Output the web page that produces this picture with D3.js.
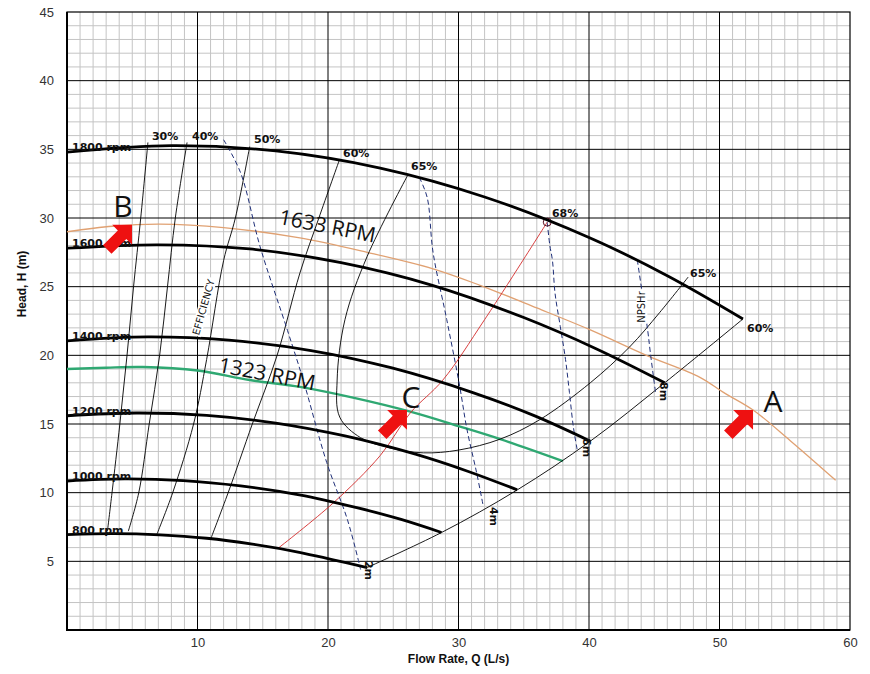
<!DOCTYPE html>
<html lang="en">
<head>
<meta charset="UTF-8">
<title>Pump Performance Curves</title>
<script src="https://d3js.org/d3.v7.min.js"></script>
<style>
  body { margin: 0; background: #fff; }
  .grid-minor { stroke: #c4c4c4; stroke-width: 1; }
  .grid-major { stroke: #000; stroke-width: 1; }
  .pump { fill: none; stroke: #000; stroke-width: 2.8; }
  .eff { fill: none; stroke: #000; stroke-width: 0.9; }
  .npsh { fill: none; stroke: #1f2f78; stroke-width: 1; stroke-dasharray: 5,3; }
  .lbl { font-family: "DejaVu Sans", Verdana, sans-serif; font-weight: bold; font-size: 11px; fill: #111; }
  .rpm { font-family: "Open Sans", "Liberation Sans", sans-serif; font-size: 21px; fill: #111; }
  .letter { font-family: "Open Sans", "Liberation Sans", sans-serif; font-size: 30px; fill: #111; }
  .axis-title { font-family: "Liberation Sans", Arial, sans-serif; font-weight: bold; font-size: 12px; fill: #111; }
</style>
</head>
<body>
<div id="chart"></div>
<script>
// pump curves [Q (L/s), H (m)] for each speed
const speedLabels = ["1800 rpm", "1600 rpm", "1400 rpm", "1200 rpm", "1000 rpm", "800 rpm"];
const curve1800 = [[0,34.8],[8,35.27],[16,34.88],[24,33.63],[32,31.53],[40,28.58],[46,25.8],[51.8,22.65]];
const curve1600 = [[0,27.8],[7,28.05],[14,27.75],[21,26.75],[28,25.1],[35,22.75],[40.5,20.5],[45.8,18.0]];
const curve1400 = [[0,21.05],[6.2,21.34],[12.4,21.1],[18.7,20.35],[24.9,19.08],[31.1,17.29],[35.8,15.61],[40.1,13.75]];
const curve1200 = [[0,15.6],[5.3,15.8],[10.7,15.63],[16,15.07],[21.3,14.13],[26.7,12.8],[30.7,11.56],[34.5,10.2]];
const curve1000 = [[0,10.85],[4.4,11.0],[8.9,10.88],[13.3,10.49],[17.8,9.84],[22.2,8.91],[25.6,8.05],[28.7,7.1]];
const curve800 = [[0,6.95],[3.55,7.02],[7.1,6.93],[10.7,6.68],[14.2,6.25],[17.8,5.66],[20.4,5.11],[23.0,4.55]];
const pumpCurves = [curve1800, curve1600, curve1400, curve1200, curve1000, curve800];

// iso-efficiency lines
const eff30 = [[6.2,35.5],[5.65,30],[5.1,25],[4.6,20],[4.05,15],[3.45,10],[3.1,7.2]];
const eff40 = [[9.2,35.5],[8.3,30],[7.7,25],[7.1,20],[6.3,15],[5.5,10],[4.7,7.2]];
const eff50 = [[14.0,35.2],[12.9,30],[12.0,26.9],[10.7,19.7],[9.7,15],[8.1,10],[6.9,7.0]];
const eff60 = [[20.9,34.3],[19.3,30],[17.85,26.0],[16.1,20],[14.2,15],[12.35,10],[11.0,6.6]];
const eff65 = [[26.1,33.1],[23.0,27.2],[21.3,22.6],[20.7,18.2],[20.9,15.5],[22.5,14.0],[24.75,13.25],[27.3,12.9],
               [30.0,13.1],[33.2,13.9],[36.2,15.3],[40.1,18.0],[43.1,20.6],[45.4,23.1],[47.6,25.7]];
const effEnd = [[51.8,22.65],[45.8,18.0],[40.1,13.75],[34.5,10.2],[28.7,7.1],[23.0,4.55]];
const effLines = [eff30, eff40, eff50, eff60, eff65, effEnd];

// NPSHr lines (2m, 4m, 6m, 8m)
const npsh2 = [[12.0,35.7],[13.3,33.3],[14.8,27.9],[16.9,21.8],[18.1,18.2],[19.9,12.2],[21.5,8.0],[22.5,4.4]];
const npsh4 = [[27.0,32.95],[27.6,31.5],[28.05,27.5],[29.1,22.6],[30.1,17.7],[30.65,14.6],[31.4,11.4],[31.9,9.0]];
const npsh6 = [[36.8,29.7],[37.0,28.0],[37.2,26.9],[37.4,24.5],[37.8,22.1],[38.2,19.7],[38.5,17.3],[38.8,14.8],[39.1,13.1]];
const npsh8 = [[43.7,26.95],[44.1,24.4],[44.5,21.8],[44.7,20.2],[45.0,18.0],[45.1,17.3]];
const npshLines = [npsh2, npsh4, npsh6, npsh8];

// system curve and operating speeds
const systemCurve = [[16.2,5.97],[20.4,9.25],[24.0,12.7],[26.3,15.8],[28.8,18.2],[32.0,22.6],[36.8,29.7]];
const curve1633 = [[0,29.0],[3.5,29.4],[7.1,29.55],[12,29.3],[17.85,28.55],[23,27.5],[28.05,26.3],[31.65,25.1],
                   [36,23.45],[40.1,21.85],[44.4,20.0],[48.5,18.4],[50.3,17.3],[52.6,16.0],[55.4,13.8],[58.9,10.9]];
const curve1323 = [[0,19.0],[3,19.1],[5.8,19.15],[10,18.9],[14,18.2],[17.85,17.7],[22,16.9],[26.3,15.9],[30,14.85],[33.2,13.9],[38.0,12.3]];
const bestPoint = [36.8, 29.7];

const xTicks = [10, 20, 30, 40, 50, 60];
const yTicks = [5, 10, 15, 20, 25, 30, 35, 40, 45];

// annotation anchors (data coords)
const effLabels = [
  { t: "30%", q: 6.51, h: 35.69 }, { t: "40%", q: 9.58, h: 35.69 }, { t: "50%", q: 14.33, h: 35.47 },
  { t: "60%", q: 21.15, h: 34.45 }, { t: "65%", q: 26.36, h: 33.5 }, { t: "68%", q: 37.16, h: 30.08 },
  { t: "65%", q: 47.74, h: 25.71 }, { t: "60%", q: 52.11, h: 21.7 }
];
const npshLabels = [
  { t: "2m", q: 22.84, h: 5.03 }, { t: "4m", q: 32.41, h: 8.96 },
  { t: "6m", q: 39.54, h: 13.98 }, { t: "8m", q: 45.44, h: 18.06 }
];
const points = [
  { t: "B", q: 4.29, h: 30.08, tipQ: 4.98, tipH: 29.5 },
  { t: "A", q: 54.1, h: 15.88, tipQ: 52.57, tipH: 16.02 },
  { t: "C", q: 26.36, h: 16.17, tipQ: 26.05, tipH: 16.02 }
];

const width = 870, height = 674;
const margin = { top: 12, right: 20, bottom: 44, left: 67 };

const x = d3.scaleLinear().domain([0, 60]).range([margin.left, width - margin.right]);
const y = d3.scaleLinear().domain([0, 45]).range([height - margin.bottom, margin.top]);

const svg = d3.select("#chart").append("svg")
  .attr("width", width)
  .attr("height", height);

// grid
const grid = svg.append("g");
grid.selectAll(".vx").data(d3.range(1, 60)).enter().append("line")
  .attr("class", d => d % 10 === 0 ? "grid-major" : "grid-minor")
  .attr("x1", d => x(d)).attr("x2", d => x(d))
  .attr("y1", y(0)).attr("y2", y(45));
grid.selectAll(".hy").data(d3.range(1, 45)).enter().append("line")
  .attr("class", d => d % 5 === 0 ? "grid-major" : "grid-minor")
  .attr("x1", x(0)).attr("x2", x(60))
  .attr("y1", d => y(d)).attr("y2", d => y(d));
// put major lines on top of minor ones
grid.selectAll(".grid-major").raise();

// frame
svg.append("rect").attr("x", x(0)).attr("y", y(45))
  .attr("width", x(60) - x(0)).attr("height", y(0) - y(45))
  .attr("fill", "none").attr("stroke", "#000").attr("stroke-width", 1.2);
svg.append("line").attr("x1", x(0)).attr("x2", x(0)).attr("y1", y(45)).attr("y2", y(0))
  .attr("stroke", "#000").attr("stroke-width", 2);
svg.append("line").attr("x1", x(0) - 1).attr("x2", x(60)).attr("y1", y(0)).attr("y2", y(0))
  .attr("stroke", "#000").attr("stroke-width", 2);

// axes
const yAxis = svg.append("g")
  .attr("transform", `translate(${x(0)},0)`)
  .call(d3.axisLeft(y).tickValues(yTicks).tickSize(0).tickPadding(13));
const xAxis = svg.append("g")
  .attr("transform", `translate(0,${y(0)})`)
  .call(d3.axisBottom(x).tickValues(xTicks).tickSize(0).tickPadding(8));
[xAxis, yAxis].forEach(g => {
  g.select(".domain").remove();
  g.selectAll("text")
    .attr("font-family", "'Liberation Sans', Arial, sans-serif")
    .attr("font-size", 13)
    .attr("fill", "#333");
});

svg.append("text").attr("class", "axis-title")
  .attr("text-anchor", "middle")
  .attr("transform", `translate(26,${(y(0) + y(45)) / 2 - 37}) rotate(-90)`)
  .text("Head, H (m)");
svg.append("text").attr("class", "axis-title")
  .attr("text-anchor", "middle")
  .attr("x", (x(0) + x(60)) / 2)
  .attr("y", 663)
  .text("Flow Rate, Q (L/s)");

const smooth = d3.line()
  .x(d => x(d[0])).y(d => y(d[1]))
  .curve(d3.curveCatmullRom.alpha(0.5));

// operating speed curves (under the rest)
svg.append("path").datum(curve1633)
  .attr("d", smooth).attr("fill", "none")
  .attr("stroke", "#e0a172").attr("stroke-width", 1.3);
svg.append("path").datum(curve1323)
  .attr("d", smooth).attr("fill", "none")
  .attr("stroke", "#2fa872").attr("stroke-width", 2.4);

// iso-efficiency lines
svg.selectAll(".eff").data(effLines).enter().append("path")
  .attr("class", "eff").attr("d", smooth);

// npsh lines
svg.selectAll(".npsh").data(npshLines).enter().append("path")
  .attr("class", "npsh").attr("d", smooth);

// system curve
svg.append("path").datum(systemCurve)
  .attr("d", smooth).attr("fill", "none")
  .attr("stroke", "#d42a2a").attr("stroke-width", 0.9);
svg.append("circle")
  .attr("cx", x(bestPoint[0])).attr("cy", y(bestPoint[1])).attr("r", 4)
  .attr("fill", "none").attr("stroke", "#5a1020").attr("stroke-width", 1);

// pump curves
svg.selectAll(".pump").data(pumpCurves).enter().append("path")
  .attr("class", "pump").attr("d", smooth);

// speed labels
svg.selectAll(".spd").data(pumpCurves).enter().append("text")
  .attr("class", "lbl")
  .attr("x", x(0) + 5)
  .attr("y", d => y(d[0][1]) - 1)
  .text((d, i) => speedLabels[i]);

// efficiency labels
svg.selectAll(".effl").data(effLabels).enter().append("text")
  .attr("class", "lbl")
  .attr("x", d => x(d.q)).attr("y", d => y(d.h))
  .text(d => d.t);

// npsh labels, rotated
svg.selectAll(".npl").data(npshLabels).enter().append("text")
  .attr("class", "lbl")
  .attr("transform", d => `translate(${x(d.q)},${y(d.h)}) rotate(90)`)
  .text(d => d.t);

// rotated labels with a white box behind
function boxedLabel(txt, q, h, angle) {
  const g = svg.append("g").attr("transform", `translate(${x(q)},${y(h)}) rotate(${angle})`);
  const rect = g.append("rect").attr("fill", "#fff");
  const t = g.append("text")
    .attr("text-anchor", "middle").attr("dy", "0.35em")
    .attr("font-family", "'DejaVu Sans', Verdana, sans-serif")
    .attr("font-size", 10).attr("fill", "#111")
    .text(txt);
  const b = t.node().getBBox();
  rect.attr("x", b.x - 1).attr("y", b.y).attr("width", b.width + 2).attr("height", b.height);
}
boxedLabel("EFFICIENCY", 10.46, 23.5, -74);
boxedLabel("NPSHr", 44.05, 23.52, -90);

// rpm labels
svg.append("text").attr("class", "rpm")
  .attr("text-anchor", "middle").attr("dy", "0.35em")
  .attr("transform", `translate(${x(19.96)},${y(29.42)}) rotate(11)`)
  .text("1633 RPM");
svg.append("text").attr("class", "rpm")
  .attr("text-anchor", "middle").attr("dy", "0.35em")
  .attr("transform", `translate(${x(15.33)},${y(18.65)}) rotate(11)`)
  .text("1323 RPM");

// point letters and red arrows
const arrowShape = "M0,0 L-14,-14 L-14,-6 L-35,-6 L-35,6 L-14,6 L-14,14 Z";
svg.selectAll(".arrow").data(points).enter().append("path")
  .attr("d", arrowShape)
  .attr("fill", "#ee1111")
  .attr("transform", d => `translate(${x(d.tipQ)},${y(d.tipH)}) rotate(-45)`);
svg.selectAll(".letter").data(points).enter().append("text")
  .attr("class", "letter")
  .attr("text-anchor", "middle")
  .attr("x", d => x(d.q)).attr("y", d => y(d.h))
  .text(d => d.t);
</script>
</body>
</html>
